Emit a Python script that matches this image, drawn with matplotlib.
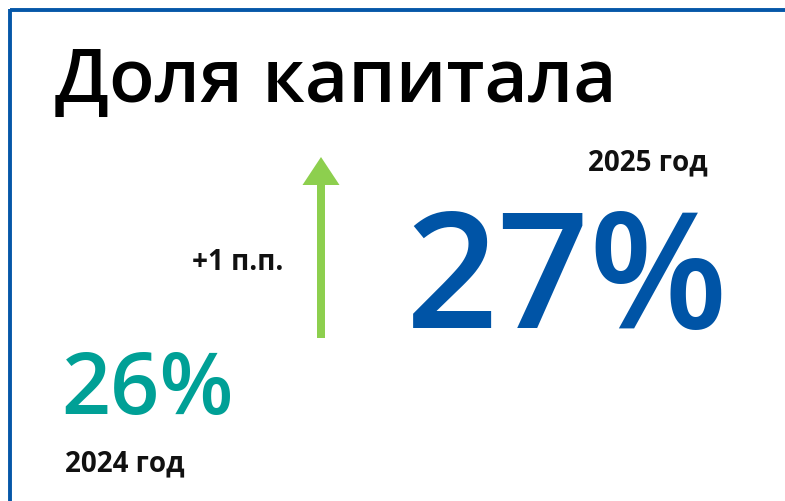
import matplotlib
matplotlib.use("Agg")
import matplotlib.pyplot as plt
from matplotlib.patches import FancyArrow

title = "Доля капитала"
years = ["2024 год", "2025 год"]
values = [26, 27]
delta_label = "+{} п.п.".format(values[1] - values[0])

BLUE = "#0054A6"
TEAL = "#00A096"
GREEN = "#8DCF4E"
BORDER = "#0557A8"

plt.rcParams['font.family'] = ['Open Sans', 'DejaVu Sans']

fig = plt.figure(figsize=(7.85, 5.02), dpi=100)
ax = fig.add_axes([0, 0, 1, 1])
ax.set_xlim(0, 785)
ax.set_ylim(502, 0)
ax.axis('off')

# frame (top and left visible)
ax.plot([9.5, 785], [11, 11], color=BORDER, lw=2.8, solid_capstyle='butt')
ax.plot([9.5, 9.5], [9.5, 502], color=BORDER, lw=2.8, solid_capstyle='butt')

ax.text(55, 103, title, fontsize=53.8, fontweight='semibold', color='black',
        ha='left', va='baseline')

ax.text(588, 170, years[1], fontsize=20, fontweight='bold', color='#111111',
        ha='left', va='baseline')
ax.text(406, 328, f"{values[1]}%", fontsize=116, fontweight='semibold', color=BLUE,
        ha='left', va='baseline')

ax.text(61, 414, f"{values[0]}%", fontsize=62, fontweight='semibold', color=TEAL,
        ha='left', va='baseline')
ax.text(65, 471, years[0], fontsize=20, fontweight='bold', color='#111111',
        ha='left', va='baseline')

ax.text(192, 270, delta_label, fontsize=20, fontweight='bold', color='#111111',
        ha='left', va='baseline')

arrow = FancyArrow(321, 339, 0, -181, width=8, head_width=37, head_length=28,
                   length_includes_head=True, color=GREEN, lw=0)
ax.add_patch(arrow)

fig.savefig("out.png", dpi=100, facecolor='white')
